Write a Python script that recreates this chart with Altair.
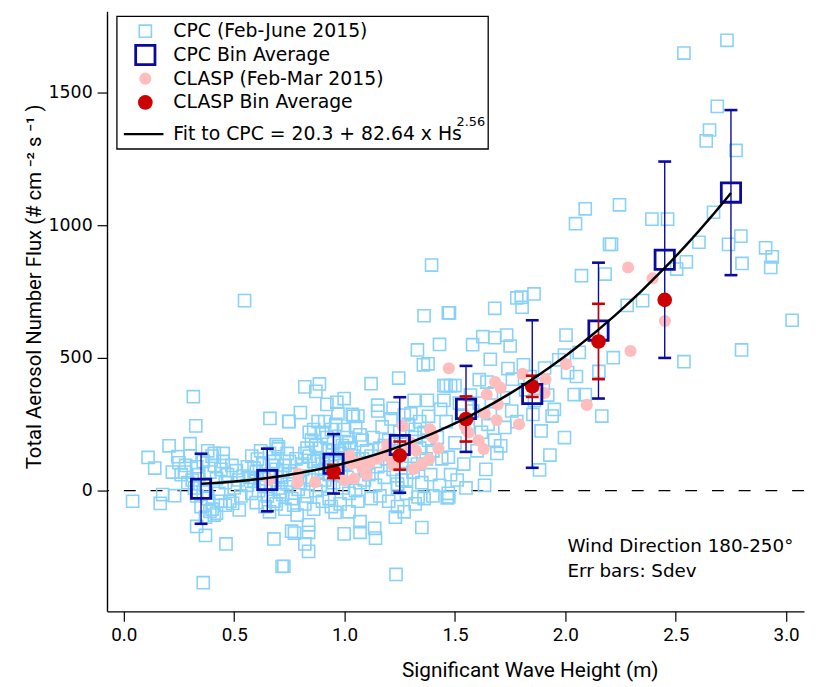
import altair as alt
import pandas as pd

# ---------------- data ----------------
# CPC individual points, grouped by wave-height range (x = Hs [m], y = flux)
cpc_a = [(0.04, -40), (0.11, 125), (0.14, 85), (0.176, -15), (0.165, -48), (0.23, -19), (0.205, 169),
         (0.30, 177), (0.245, 128), (0.277, 70), (0.315, 354), (0.326, 244), (0.36, -347), (0.463, -201),
         (0.37, -169), (0.33, -135), (0.523, -73), (0.493, -48), (0.41, -92), (0.39, -78),
         (0.31, 40), (0.33, 90), (0.34, 60), (0.36, 110), (0.37, 20), (0.38, -30), (0.39, 70), (0.40, 130),
         (0.41, 95), (0.42, 45), (0.43, -10), (0.44, 80), (0.45, 110), (0.46, 30), (0.47, 60), (0.48, -40),
         (0.49, 95), (0.50, 10), (0.51, 75), (0.52, 40), (0.53, -20), (0.54, 55), (0.35, -60), (0.37, -100),
         (0.40, -70), (0.42, -85), (0.44, -40), (0.46, -55), (0.33, -20), (0.32, 10), (0.30, 130), (0.28, 95),
         (0.26, 60), (0.22, 70), (0.25, 105), (0.29, 30), (0.38, 150), (0.41, 140), (0.45, 140), (0.36, -5),
         (0.547, 716)]
cpc_b = [(0.56, 20), (0.57, 50), (0.58, -10), (0.59, 35), (0.60, 70), (0.61, 0), (0.62, 45), (0.63, 100),
         (0.64, 15), (0.65, -20), (0.66, 60), (0.67, 30), (0.68, -40), (0.69, 80), (0.70, 10), (0.71, 50),
         (0.72, -15), (0.73, 95), (0.74, 25), (0.75, 60), (0.76, -30), (0.77, 40), (0.78, 120), (0.79, 5),
         (0.58, 130), (0.62, 150), (0.66, 140), (0.70, 165), (0.74, 140), (0.60, -45), (0.64, -60),
         (0.69, -50), (0.73, -70), (0.77, -55), (0.56, 90), (0.68, 110), (0.71, -5), (0.605, 119),
         (0.69, 173), (0.70, 157), (0.66, -80), (0.76, -153), (0.662, 272), (0.747, 261), (0.68, -182),
         (0.717, -286), (0.63, 60), (0.67, 95), (0.72, 75), (0.75, 110), (0.59, 85)]
cpc_c = [(0.80, 30), (0.81, 80), (0.82, 140), (0.83, -20), (0.84, 50), (0.85, 190), (0.86, 110), (0.87, 0),
         (0.88, 70), (0.89, 160), (0.90, 220), (0.91, 40), (0.92, 120), (0.93, -30), (0.94, 90), (0.95, 180),
         (0.96, 250), (0.97, 60), (0.98, 140), (0.99, 10), (1.00, 100), (1.01, 200), (1.02, -10), (1.03, 160),
         (1.04, 70), (1.05, 240), (1.06, 120), (1.07, 30), (1.08, 190), (1.09, 90), (1.10, 150), (0.82, -50),
         (0.86, -70), (0.90, -40), (0.94, -60), (0.98, -50), (1.02, -80), (1.06, -40), (0.84, 220),
         (0.88, 260), (0.92, 200), (0.97, 290), (1.00, 230), (1.04, 280), (0.81, 100), (0.85, 40),
         (0.89, 20), (0.93, 150), (0.96, 110), (1.01, 50), (1.05, 0), (1.08, 120), (0.87, 170), (0.91, 260),
         (0.99, 170), (1.03, 110), (0.95, 30), (0.90, 100), (0.83, 160), (1.07, 210), (0.88, 120),
         (0.94, 230), (1.02, 180), (0.86, 230), (1.09, 40), (0.82, 391), (0.87, 374), (0.886, 402),
         (0.92, 325), (0.965, 333), (0.998, 347), (0.80, 294), (0.748, 260), (0.785, -92), (0.773, -160),
         (0.837, -129), (0.837, -157), (0.82, -201), (0.837, -229), (0.957, -82), (0.998, -163),
         (1.07, -117), (1.07, -157), (0.725, -285), (1.06, 281), (1.035, 287),
         (0.84, 130), (0.91, 80), (0.97, 150), (1.04, 130), (0.93, 60), (1.00, 160)]
cpc_d = [(1.11, 60), (1.12, 130), (1.13, 200), (1.14, 20), (1.15, 90), (1.16, 160), (1.17, 240), (1.18, 50),
         (1.19, 120), (1.20, 190), (1.21, 270), (1.22, 80), (1.23, 150), (1.24, 10), (1.25, 220),
         (1.26, 110), (1.27, 180), (1.28, 40), (1.29, 250), (1.30, 130), (1.31, 70), (1.32, 200),
         (1.33, 100), (1.34, 160), (1.35, 30), (1.36, 220), (1.37, 120), (1.38, 190), (1.39, 60),
         (1.40, 150), (1.12, -30), (1.16, -20), (1.20, -40), (1.24, -60), (1.28, -10), (1.32, -50),
         (1.36, -30), (1.40, -20), (1.15, 300), (1.22, 310), (1.30, 290), (1.38, 280), (1.14, 110),
         (1.18, 170), (1.26, 40), (1.34, 260), (1.23, -100), (1.27, -80), (1.136, -142), (1.14, -179),
         (1.394, 850), (1.36, 659), (1.47, 670), (1.43, 551), (1.33, 530), (1.357, 474), (1.378, 478),
         (1.245, 424), (1.12, 403), (1.15, 322), (1.315, 340), (1.375, 340), (1.45, 396), (1.27, 285),
         (1.32, 231), (1.435, 306), (1.35, -139), (1.333, -24), (1.465, -27), (1.24, 25), (1.233, -316)]
cpc_e = [(1.42, 200), (1.44, 120), (1.46, 260), (1.48, 60), (1.50, 180), (1.52, 330), (1.54, 100),
         (1.56, 240), (1.58, 300), (1.60, 150), (1.62, 220), (1.64, 80), (1.66, 290), (1.68, 190),
         (1.43, 20), (1.47, -10), (1.51, 40), (1.55, 10), (1.45, 340), (1.53, 280), (1.57, 360),
         (1.61, 330), (1.65, 250), (1.69, 140), (1.475, 670), (1.626, 580), (1.68, 576), (1.734, 586),
         (1.58, 550), (1.75, 545), (1.66, 495), (1.46, 396), (1.48, 396), (1.50, 396), (1.61, 418),
         (1.645, 409), (1.68, 368), (1.757, 300), (1.707, 169), (1.726, 238), (1.634, 20), (1.472, -24),
         (1.47, 126), (1.68, 687)]
cpc_f = [(1.78, 726), (1.80, 729), (1.804, 691), (1.858, 741), (1.81, 474), (1.906, 462), (1.97, 493),
         (2.01, 445), (1.853, 287), (1.95, 306), (1.94, 281), (1.89, 225), (1.996, 200), (1.93, 134),
         (1.883, 78), (1.996, 511), (2.003, 586), (1.76, 420), (1.82, 380), (1.86, 340), (1.90, 400),
         (1.72, 350), (1.78, 260), (1.84, 430), (1.92, 360), (1.74, 460)]
cpc_g = [(2.09, 1062), (2.046, 1006), (2.20, 928), (2.073, 810), (2.18, 816), (2.063, 521), (2.05, 430),
         (2.04, 362), (2.09, 362), (2.165, 281), (2.217, 501), (2.245, 1077), (2.209, 928), (2.28, 698),
         (2.35, 716), (2.152, 449), (2.392, 1023), (2.463, 1023), (2.605, 936), (2.548, 862),
         (2.504, 835), (2.537, 486), (2.537, 1649), (2.671, 1049), (2.732, 1697), (2.688, 1448),
         (2.653, 1359), (2.638, 1318), (2.773, 1282), (2.739, 928), (2.795, 959), (2.907, 915),
         (2.937, 881), (2.93, 841), (2.80, 856), (3.027, 642), (2.798, 530)]

# CLASP individual points
clasp_pts = [(0.658, 40), (0.79, 63), (0.787, 30), (0.867, 32), (0.964, 82), (1.024, 132), (1.031, 101),
             (1.069, 107), (1.0, 38), (1.043, 45), (1.10, 60), (1.114, 103), (1.193, 172), (1.263, 244),
             (1.203, 126), (1.293, 157), (1.313, 82), (1.323, 150), (1.383, 119), (1.387, 231),
             (1.425, 159), (1.472, 461), (1.562, 219), (1.544, 244), (1.607, 190), (1.63, 157),
             (1.635, 290), (1.644, 362), (1.682, 409), (1.707, 387), (1.694, 325), (1.689, 266),
             (1.79, 250), (1.806, 440), (1.91, 420), (1.906, 368), (2.003, 476), (2.097, 323),
             (2.284, 841), (2.395, 800), (2.451, 639), (2.295, 526), (1.15, 120), (1.22, 95),
             (1.30, 180), (1.35, 100), (1.40, 200), (1.08, 85), (1.18, 140)]

# Bin averages +/- standard deviation
cpc_bin_x = [0.35, 0.65, 0.95, 1.25, 1.55, 1.85, 2.15, 2.45, 2.75]
cpc_bin_mean = [7, 40, 101, 172, 308, 364, 603, 870, 1123]
cpc_bin_sd = [132, 118, 112, 180, 162, 278, 256, 370, 311]

clasp_bin_x = [0.95, 1.25, 1.55, 1.85, 2.15, 2.45]
clasp_bin_mean = [72, 132, 270, 393, 562, 719]
clasp_bin_sd = [25, 53, 85, 40, 142, None]

# Fit stated on the chart: flux = A + B * Hs^P
FIT_A, FIT_B, FIT_P = 20.3, 82.64, 2.56
FIT_RANGE = (0.35, 2.75)

legend_labels = ["CPC (Feb-June 2015)", "CPC Bin Average", "CLASP (Feb-Mar 2015)",
                 "CLASP Bin Average", "Fit to CPC = 20.3 + 82.64 x Hs"]
legend_sup = "2.56"
note_lines = ["Wind Direction 180-250°", "Err bars: Sdev"]
X_TITLE = "Significant Wave Height (m)"
Y_TITLE = "Total Aerosol Number Flux (# cm ⁻²  s ⁻¹ )"

# ---------------- styling ----------------
CPC_C = "#88D1F8"
NAVY = "#0A0A9E"
PINK = "#FFBDBD"
RED = "#CC0000"
W, H = 704, 606
xs = alt.Scale(domain=[-0.076, 3.081], nice=False, zero=False)
ys = alt.Scale(domain=[-455, 1806], nice=False, zero=False)

x_axis = alt.Axis(values=[0, 0.5, 1, 1.5, 2, 2.5, 3], format=".1f", title=X_TITLE,
                  grid=False, tickSize=10, tickWidth=1.2, tickColor="black", domainColor="black",
                  domainWidth=1.4, labelFont="Roboto", labelFontSize=19, labelColor="black", labelPadding=4,
                  titleFont="Roboto", titleFontSize=21, titleFontWeight="normal", titleColor="black",
                  titleX=427, titleY=60, titleBaseline="middle", titleAlign="center")
y_axis = alt.Axis(values=[0, 500, 1000, 1500], format="d", title=Y_TITLE,
                  grid=False, tickSize=10, tickWidth=1.2, tickColor="black", domainColor="black",
                  domainWidth=1.4, labelFont="DejaVu Sans", labelFontSize=17.5, labelColor="black",
                  labelPadding=5, titleFont="Roboto", titleFontSize=20.5, titleFontWeight="normal",
                  titleColor="black", titleX=-73, titleY=462, titleAngle=270, titleAlign="left",
                  titleBaseline="middle")

def pts_df(groups):
    rows = [p for g in groups for p in g]
    return pd.DataFrame({"x": [p[0] for p in rows], "y": [p[1] for p in rows]})

cpc_df = pts_df([cpc_a, cpc_b, cpc_c, cpc_d, cpc_e, cpc_f, cpc_g])
clasp_df = pts_df([clasp_pts])
cbin = pd.DataFrame({"x": cpc_bin_x, "y": cpc_bin_mean, "sd": cpc_bin_sd})
cbin["lo"] = cbin["y"] - cbin["sd"]
cbin["hi"] = cbin["y"] + cbin["sd"]
kbin = pd.DataFrame({"x": clasp_bin_x, "y": clasp_bin_mean, "sd": clasp_bin_sd})
kbin_err = kbin.dropna().copy()
kbin_err["lo"] = kbin_err["y"] - kbin_err["sd"]
kbin_err["hi"] = kbin_err["y"] + kbin_err["sd"]

# every layer shares the same axis definitions so the axes merge cleanly
X = lambda f="x": alt.X(f"{f}:Q", scale=xs, axis=x_axis, title=X_TITLE)
Y = lambda f="y": alt.Y(f"{f}:Q", scale=ys, axis=y_axis, title=Y_TITLE)

zero = alt.Chart(pd.DataFrame({"x": [0.0], "y": [0]})).mark_rule(
    color="black", strokeWidth=1.3, strokeDash=[12, 15]).encode(y=Y())

cpc = alt.Chart(cpc_df).mark_point(shape="square", size=150, filled=False, color=CPC_C,
                                   strokeWidth=1.6, opacity=1, clip=True).encode(x=X(), y=Y())

clasp = alt.Chart(clasp_df).mark_circle(size=150, color=PINK, opacity=1, clip=True).encode(x=X(), y=Y())

c_rule = alt.Chart(cbin).mark_rule(color=NAVY, strokeWidth=1.4).encode(x=X(), y=Y("lo"), y2="hi:Q")
c_cap_lo = alt.Chart(cbin).mark_tick(orient="horizontal", size=13, thickness=2.6, color=NAVY, opacity=1).encode(x=X(), y=Y("lo"))
c_cap_hi = alt.Chart(cbin).mark_tick(orient="horizontal", size=13, thickness=2.6, color=NAVY, opacity=1).encode(x=X(), y=Y("hi"))
c_mean = alt.Chart(cbin).mark_point(shape="square", size=380, filled=False, color=NAVY,
                                    strokeWidth=2.8, opacity=1).encode(x=X(), y=Y())

k_rule = alt.Chart(kbin_err).mark_rule(color=RED, strokeWidth=1.4).encode(x=X(), y=Y("lo"), y2="hi:Q")
k_cap_lo = alt.Chart(kbin_err).mark_tick(orient="horizontal", size=13, thickness=2.6, color=RED, opacity=1).encode(x=X(), y=Y("lo"))
k_cap_hi = alt.Chart(kbin_err).mark_tick(orient="horizontal", size=13, thickness=2.6, color=RED, opacity=1).encode(x=X(), y=Y("hi"))
k_mean = alt.Chart(kbin).mark_circle(size=220, color=RED, opacity=1).encode(x=X(), y=Y())

fit = alt.Chart(alt.sequence(FIT_RANGE[0], FIT_RANGE[1] + 0.001, 0.025, as_="x")).transform_calculate(
    y=f"{FIT_A} + {FIT_B} * pow(datum.x, {FIT_P})").mark_line(color="black", strokeWidth=2.5).encode(
    x=X(), y=Y())

# ---------------- legend (drawn in the plot's pixel frame) ----------------
one = pd.DataFrame({"k": [0]})
LFONT = dict(font="DejaVu Sans", fontSize=19, color="black", align="left", baseline="middle")
leg_box = alt.Chart(one).mark_rect(fill="white", stroke="black", strokeWidth=1.3).encode(
    x=alt.value(10), x2=alt.value(385), y=alt.value(5), y2=alt.value(139))
row_y = [20, 44, 68, 92, 124]
sym_x = 38.7
leg_syms = [
    alt.Chart(one).mark_point(shape="square", size=150, filled=False, color=CPC_C, strokeWidth=1.6, opacity=1)
    .encode(x=alt.value(sym_x), y=alt.value(row_y[0])),
    alt.Chart(one).mark_point(shape="square", size=380, filled=False, color=NAVY, strokeWidth=2.8, opacity=1)
    .encode(x=alt.value(sym_x), y=alt.value(row_y[1])),
    alt.Chart(one).mark_circle(size=150, color=PINK, opacity=1).encode(x=alt.value(sym_x), y=alt.value(row_y[2])),
    alt.Chart(one).mark_circle(size=220, color=RED, opacity=1).encode(x=alt.value(sym_x), y=alt.value(row_y[3])),
    alt.Chart(one).mark_rule(color="black", strokeWidth=2.5).encode(
        x=alt.value(17), x2=alt.value(57), y=alt.value(row_y[4])),
]
leg_txt = [alt.Chart(one).mark_text(text=lab, **LFONT).encode(x=alt.value(67), y=alt.value(yy))
           for lab, yy in zip(legend_labels, row_y)]
leg_sup = alt.Chart(one).mark_text(text=legend_sup, font="DejaVu Sans", fontSize=13, color="black",
                                   align="left", baseline="middle").encode(x=alt.value(353), y=alt.value(112))

NFONT = dict(LFONT, fontSize=18.5)
notes = [alt.Chart(one).mark_text(text=t, **NFONT).encode(x=alt.value(465), y=alt.value(yy))
         for t, yy in zip(note_lines, [540, 565])]

chart = alt.layer(
    zero, cpc, clasp, c_rule, c_cap_lo, c_cap_hi, c_mean, k_rule, k_cap_lo, k_cap_hi, k_mean, fit,
    leg_box, *leg_syms, *leg_txt, leg_sup, *notes
).properties(
    width=W, height=H,
    autosize=alt.AutoSizeParams(type="none"),
    padding={"left": 100, "top": 0, "right": 4, "bottom": 73},
    background="white",
).configure_view(stroke=None)

chart.save("out.html", embed_options={"renderer": "svg", "actions": False})
